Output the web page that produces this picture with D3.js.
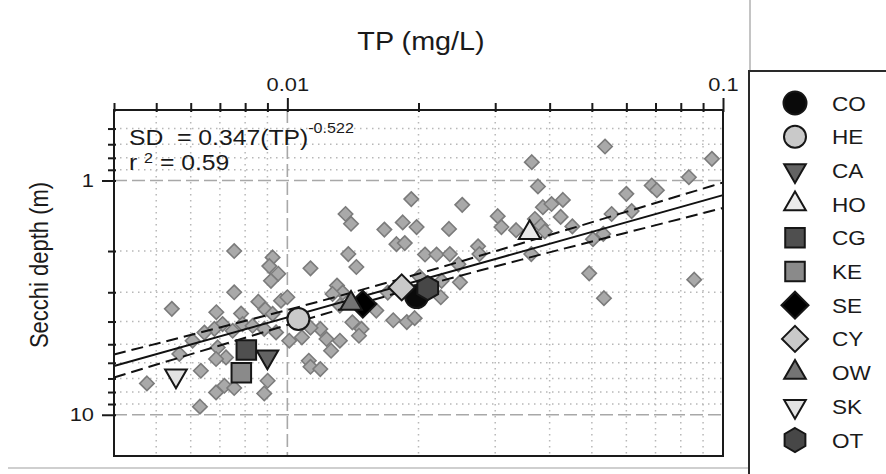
<!DOCTYPE html>
<meta charset="utf-8">
<html>
<head>
<script src="https://cdn.jsdelivr.net/npm/d3@7"></script>
<style>
	body { margin: 0; background: #fff; }
	text { font-family: "Liberation Sans", Arial, sans-serif; fill: #1a1a1a; white-space: pre; }
</style>
</head>
<body>
<svg id="chart" width="886" height="474"></svg>
<script>
	// lakes in the legend, with their mean TP (mg/L) and Secchi depth (m)
	var lakes  = ["CO","HE","CA","HO","CG","KE","SE","CY","OW","SK","OT"];
	var lakeTP = [0.0198,0.0106,0.0090,0.0360,0.00805,0.00784,0.0149,0.0183,0.0140,0.00555,0.0210];
	var lakeSD = [3.13,3.90,5.65,1.67,5.29,6.62,3.37,2.86,3.35,6.81,2.88];

	// individual observations (grey diamonds)
	var obsTP = [0.01925,0.0136,0.0140,0.0167,0.0184,0.0198,0.0178,0.0186,0.0207,0.00755,
		0.00925,0.0138,0.0536,0.0943,0.0364,0.0835,0.0376,0.0252,0.0600,0.0686,
		0.0705,0.0386,0.0404,0.0429,0.0235,0.0304,0.0310,0.0335,0.0370,0.0382,
		0.0390,0.0424,0.0451,0.0555,0.0617,0.0503,0.0531,0.0220,0.0236,0.0274,
		0.0276,0.0363,0.0247,0.0249,0.0225,0.0493,0.0533,0.0859,0.0175,0.0188,
		0.0196,0.00755,0.00909,0.00917,0.00953,0.0113,0.0144,0.0130,0.0134,0.0127,
		0.00543,0.00687,0.00783,0.00858,0.00890,0.00925,0.00967,0.0100,0.00710,0.00789,
		0.00749,0.00680,0.00645,0.00606,0.00832,0.00885,0.00942,0.0101,0.0108,0.0119,
		0.0123,0.0132,0.0126,0.0141,0.0148,0.0146,0.0160,0.00565,0.00692,0.00723,
		0.00686,0.00633,0.0112,0.0113,0.0119,0.00476,0.00686,0.00717,0.00755,0.00901,
		0.00885,0.00630,0.0201,0.0226,0.0170,0.0132,0.0113];
	var obsSD = [1.20,1.39,1.53,1.62,1.51,1.58,1.87,1.85,2.07,2.00,
		2.13,2.06,0.716,0.808,0.835,0.968,1.06,1.27,1.14,1.05,
		1.10,1.30,1.26,1.21,1.61,1.42,1.58,1.63,1.46,1.56,
		1.65,1.43,1.57,1.39,1.35,1.78,1.69,2.07,2.06,1.91,
		2.06,2.06,2.28,2.72,3.15,2.49,3.18,2.65,3.95,4.02,
		3.87,3.00,2.32,2.68,2.50,2.37,2.34,2.81,3.01,3.05,
		3.53,3.65,3.70,3.29,3.55,3.71,3.26,3.15,4.10,4.10,
		4.38,4.30,4.46,4.83,4.17,4.30,4.45,4.83,4.67,4.30,
		4.75,4.83,5.33,4.03,4.30,4.60,3.59,5.50,5.16,5.69,
		5.78,6.49,5.88,6.24,6.38,7.35,8.03,7.52,7.69,7.16,
		8.11,9.24,2.57,2.68,3.01,3.42,4.25];

	// fitted power law and its confidence band (band)
	var fitCoef = 0.347, fitExp = -0.522, fitR2 = 0.59;
	var bandTP    = [0.004,0.007,0.012,0.02,0.035,0.06,0.1];
	var bandUpper = [5.53,4.24,3.26,2.50,1.84,1.36,1.02];
	var bandLower = [6.93,5.06,3.74,2.85,2.16,1.67,1.31];

	var xMajor = [0.01, 0.1];
	var xMinor = [0.004,0.005,0.006,0.007,0.008,0.009,0.02,0.03,0.04,0.05,0.06,0.07,0.08,0.09];
	var yMajor = [1, 10];
	var yMinor = [0.6,0.7,0.8,0.9,2,3,4,5,6,7,8,9];

	var svg = d3.select("#chart");
	var stretch = 1.15; // the original figure is a little wider than tall

	var x = d3.scaleLog().domain([0.004, 0.1]).range([114, 723]);
	var y = d3.scaleLog().domain([0.5, 15]).range([110, 456]);

	// custom marker shapes, size = radius^2
	var shapes = {
		circle: { draw: function(c, s) { var r = Math.sqrt(s); c.moveTo(r, 0); c.arc(0, 0, r, 0, 2 * Math.PI); } },
		square: { draw: function(c, s) { var r = Math.sqrt(s) * 0.85; c.rect(-r, -r, 2 * r, 2 * r); } },
		diamond: { draw: function(c, s) { var r = Math.sqrt(s); c.moveTo(0, -r); c.lineTo(r, 0); c.lineTo(0, r); c.lineTo(-r, 0); c.closePath(); } },
		triUp: { draw: function(c, s) { var r = Math.sqrt(s); c.moveTo(0, -r); c.lineTo(r * 0.866, r * 0.5); c.lineTo(-r * 0.866, r * 0.5); c.closePath(); } },
		triDown: { draw: function(c, s) { var r = Math.sqrt(s); c.moveTo(0, r); c.lineTo(r * 0.866, -r * 0.5); c.lineTo(-r * 0.866, -r * 0.5); c.closePath(); } },
		hexagon: { draw: function(c, s) {
			var r = Math.sqrt(s);
			for (var k = 0; k < 6; k++) {
				var a = -Math.PI / 2 + k * Math.PI / 3;
				if (k == 0) c.moveTo(r * Math.cos(a), r * Math.sin(a)); else c.lineTo(r * Math.cos(a), r * Math.sin(a));
			}
			c.closePath();
		} }
	};

	var lakeStyle = {
		CO: {shape: "circle",  r: 11.5, fill: "#0a0a0a"},
		HE: {shape: "circle",  r: 11,   fill: "#c9c9c9"},
		CA: {shape: "triDown", r: 12.5, fill: "#636363"},
		HO: {shape: "triUp",   r: 12.5, fill: "#ebebeb"},
		CG: {shape: "square",  r: 11.5, fill: "#4f4f4f"},
		KE: {shape: "square",  r: 11.5, fill: "#8a8a8a"},
		SE: {shape: "diamond", r: 13.5, fill: "#000000"},
		CY: {shape: "diamond", r: 13,   fill: "#c9c9c9"},
		OW: {shape: "triUp",   r: 12.5, fill: "#747474"},
		SK: {shape: "triDown", r: 12.5, fill: "#e3e3e3"},
		OT: {shape: "hexagon", r: 12,   fill: "#474747"}
	};

	function symbolPath(name) {
		var st = lakeStyle[name];
		return d3.symbol().type(shapes[st.shape]).size(st.r * st.r)();
	}

	// panel borders of the original figure
	svg.append("line").attr("x1", 750).attr("x2", 750).attr("y1", 0).attr("y2", 71)
		.attr("stroke", "#c4c4c4").attr("stroke-width", 2);
	svg.append("line").attr("x1", 8).attr("x2", 749).attr("y1", 468).attr("y2", 468)
		.attr("stroke", "#cfcfcf").attr("stroke-width", 2);

	var plot = svg.append("g");

	// minor dotted grid
	plot.selectAll(".vminor").data(xMinor.slice(1)).enter().append("line")
		.attr("x1", function(d) { return x(d); }).attr("x2", function(d) { return x(d); })
		.attr("y1", 110).attr("y2", 456)
		.attr("stroke", "#b8b8b8").attr("stroke-width", 1.5).attr("stroke-dasharray", "1.5,4.5");
	plot.selectAll(".hminor").data(yMinor).enter().append("line")
		.attr("y1", function(d) { return y(d); }).attr("y2", function(d) { return y(d); })
		.attr("x1", 114).attr("x2", 723)
		.attr("stroke", "#b8b8b8").attr("stroke-width", 1.5).attr("stroke-dasharray", "1.5,4.5");

	// major dashed grid
	plot.selectAll(".vmajor").data([0.01]).enter().append("line")
		.attr("x1", function(d) { return x(d); }).attr("x2", function(d) { return x(d); })
		.attr("y1", 110).attr("y2", 456)
		.attr("stroke", "#a8a8a8").attr("stroke-width", 1.6).attr("stroke-dasharray", "13,5");
	plot.selectAll(".hmajor").data(yMajor).enter().append("line")
		.attr("y1", function(d) { return y(d); }).attr("y2", function(d) { return y(d); })
		.attr("x1", 114).attr("x2", 723)
		.attr("stroke", "#a8a8a8").attr("stroke-width", 1.6).attr("stroke-dasharray", "13,5");

	// grey observation diamonds
	var obs = obsTP.map(function(d, i) { return {tp: d, sd: obsSD[i]}; });
	plot.selectAll(".obs").data(obs).enter().append("path")
		.attr("d", d3.symbol().type(shapes.diamond).size(52))
		.attr("transform", function(d) { return "translate(" + x(d.tp) + "," + y(d.sd) + ")"; })
		.attr("fill", "#a9a9a9").attr("stroke", "#7b7b7b").attr("stroke-width", 1.6);

	// fitted line and confidence band
	var fitLine = d3.line().x(function(d) { return x(d[0]); }).y(function(d) { return y(d[1]); });
	var ends = x.domain().map(function(t) { return [t, fitCoef * Math.pow(t, fitExp)]; });
	plot.append("path").attr("d", fitLine(ends))
		.attr("fill", "none").attr("stroke", "#111").attr("stroke-width", 2);
	var bandCurve = d3.line().x(function(d) { return x(d[0]); }).y(function(d) { return y(d[1]); })
		.curve(d3.curveMonotoneX);
	[bandUpper, bandLower].forEach(function(b) {
		plot.append("path").attr("d", bandCurve(bandTP.map(function(t, i) { return [t, b[i]]; })))
			.attr("fill", "none").attr("stroke", "#111").attr("stroke-width", 2).attr("stroke-dasharray", "12,6");
	});

	// lake means
	var lakeData = lakes.map(function(d, i) { return {name: d, tp: lakeTP[i], sd: lakeSD[i]}; });
	plot.selectAll(".lake").data(lakeData).enter().append("path")
		.attr("d", function(d) { return symbolPath(d.name); })
		.attr("transform", function(d) { return "translate(" + x(d.tp) + "," + y(d.sd) + ")"; })
		.attr("fill", function(d) { return lakeStyle[d.name].fill; })
		.attr("stroke", "#161616").attr("stroke-width", 2);

	// frame
	svg.append("rect").attr("x", 114).attr("y", 110).attr("width", 609).attr("height", 346)
		.attr("fill", "none").attr("stroke", "#1a1a1a").attr("stroke-width", 2);

	// top axis
	var topMinor = svg.append("g").attr("transform", "translate(0,112)")
		.call(d3.axisTop(x).tickValues(xMinor).tickSize(9).tickFormat(""));
	var topMajor = svg.append("g").attr("transform", "translate(0,112)")
		.call(d3.axisTop(x).tickValues(xMajor).tickSize(14).tickPadding(7).tickFormat(d3.format("")));
	// left axis
	var leftMinor = svg.append("g").attr("transform", "translate(116,0)")
		.call(d3.axisLeft(y).tickValues(yMinor).tickSize(8).tickFormat(""));
	var leftMajor = svg.append("g").attr("transform", "translate(116,0)")
		.call(d3.axisLeft(y).tickValues(yMajor).tickSize(14).tickPadding(8).tickFormat(d3.format("")));

	[topMinor, topMajor, leftMinor, leftMajor].forEach(function(g) {
		g.select(".domain").remove();
		g.selectAll(".tick line").attr("stroke", "#1a1a1a").attr("stroke-width", 2);
		g.selectAll(".tick text").attr("font-size", 19).attr("fill", "#1a1a1a")
			.attr("font-family", "Liberation Sans, Arial, sans-serif");
	});
	topMajor.selectAll(".tick text").each(function() {
		d3.select(this).attr("transform", "scale(" + stretch + ",1)").attr("x", 0);
	});
	leftMajor.selectAll(".tick text").each(function() {
		var t = d3.select(this);
		var tx = +t.attr("x");
		t.attr("x", null).attr("transform", "translate(" + tx + ",0) scale(" + stretch + ",1)");
	});

	// axis titles
	svg.append("text").attr("transform", "translate(421,50) scale(" + stretch + ",1)")
		.attr("text-anchor", "middle").attr("font-size", 25).text("TP (mg/L)");
	svg.append("text").attr("transform", "translate(48,265) scale(" + stretch + ",1) rotate(-90)")
		.attr("text-anchor", "middle").attr("font-size", 22).text("Secchi depth (m)");

	// equation and r^2
	var eq = svg.append("text").attr("transform", "translate(129,145) scale(" + stretch + ",1)")
		.attr("font-size", 21.5);
	eq.append("tspan").text("SD\u00a0\u00a0= " + fitCoef + "(TP)");
	eq.append("tspan").attr("dy", -12).attr("font-size", 14).text(fitExp);
	var rr = svg.append("text").attr("transform", "translate(129,170) scale(" + stretch + ",1)")
		.attr("font-size", 21.5);
	rr.append("tspan").text("r ");
	rr.append("tspan").attr("font-size", 14).attr("dy", -7).text("2");
	rr.append("tspan").attr("dy", 7).text(" = " + fitR2);

	// legend
	svg.append("rect").attr("x", 749).attr("y", 71).attr("width", 200).attr("height", 450)
		.attr("fill", "none").attr("stroke", "#2a2a2a").attr("stroke-width", 2);
	var leg = svg.selectAll(".leg").data(lakes).enter().append("g")
		.attr("transform", function(d, i) { return "translate(795," + (103 + i * 33.7) + ")"; });
	leg.append("path").attr("d", function(d) { return symbolPath(d); })
		.attr("fill", function(d) { return lakeStyle[d].fill; })
		.attr("stroke", "#161616").attr("stroke-width", 2);
	leg.append("text").attr("transform", "translate(37,7.5) scale(1.1,1)")
		.attr("font-size", 20.5).text(function(d) { return d; });
</script>
</body>
</html>
